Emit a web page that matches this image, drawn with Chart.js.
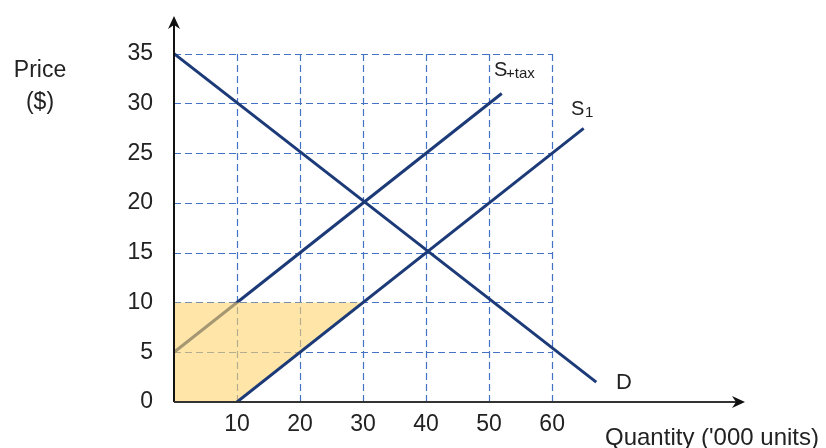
<!DOCTYPE html>
<html>
<head>
<meta charset="utf-8">
<script src="https://cdn.jsdelivr.net/npm/chart.js@4/dist/chart.umd.min.js"></script>
<style>
html,body{margin:0;padding:0;background:#fff}
#wrap{width:826px;height:448px}
</style>
</head>
<body>
<div id="wrap"><canvas id="chart" width="826" height="448"></canvas></div>
<script>
// tick labels
const xTicks=[10,20,30,40,50,60]
const yTicks=[0,5,10,15,20,25,30,35]

// curves (quantity '000, price $)
const demand=[{x:0,y:35},{x:67,y:2}]
const supply1=[{x:10,y:0},{x:65,y:27.5}]
const supplyTax=[{x:0,y:5},{x:52,y:31}]

// shaded area: price 10 line down to S1
const shadeTop=[{x:0,y:10},{x:30,y:10}]
const shadeBottom=[{x:0,y:0},{x:10,y:0},{x:30,y:10}]

const FONT="'Liberation Sans', Arial, sans-serif"
const NAVY="#1c3a78"
const GRID="#4472c4"
const Y_ARROW=38.8 // where the y axis arrow ends

const gridAndAxes={
  id:"gridAndAxes",
  beforeDatasetsDraw(chart){
    const ctx=chart.ctx
    const xs=chart.scales.x, ys=chart.scales.y
    const x0=xs.getPixelForValue(0), x60=xs.getPixelForValue(60)
    const y0=ys.getPixelForValue(0), y35=ys.getPixelForValue(35)
    ctx.save()
    ctx.strokeStyle=GRID
    ctx.lineWidth=1.2
    ctx.setLineDash([7,4])
    xTicks.forEach(v=>{
      const px=Math.round(xs.getPixelForValue(v))+0.5
      ctx.beginPath();ctx.moveTo(px,y0);ctx.lineTo(px,y35);ctx.stroke()
    })
    yTicks.forEach(v=>{
      if(v===0)return
      const py=Math.round(ys.getPixelForValue(v))+0.5
      ctx.beginPath();ctx.moveTo(x0,py);ctx.lineTo(x60,py);ctx.stroke()
    })
    ctx.restore()
  },
  afterDatasetsDraw(chart){
    const ctx=chart.ctx
    const a=chart.chartArea
    const xs=chart.scales.x, ys=chart.scales.y
    const x0=Math.round(xs.getPixelForValue(0))
    const y0=Math.round(ys.getPixelForValue(0))
    const yTop=ys.getPixelForValue(Y_ARROW)
    ctx.save()
    ctx.strokeStyle="#111"
    ctx.fillStyle="#111"
    ctx.lineWidth=2
    // y axis
    ctx.beginPath();ctx.moveTo(x0,y0);ctx.lineTo(x0,yTop+8);ctx.stroke()
    ctx.beginPath();ctx.moveTo(x0,yTop);ctx.lineTo(x0-6,yTop+13);ctx.lineTo(x0,yTop+9);ctx.lineTo(x0+6,yTop+13);ctx.closePath();ctx.fill()
    // x axis
    ctx.strokeStyle="#333"
    ctx.beginPath();ctx.moveTo(x0,y0);ctx.lineTo(a.right-8,y0);ctx.stroke()
    ctx.fillStyle="#111"
    ctx.beginPath();ctx.moveTo(a.right,y0);ctx.lineTo(a.right-13,y0-6);ctx.lineTo(a.right-9,y0);ctx.lineTo(a.right-13,y0+6);ctx.closePath();ctx.fill()

    // texts
    ctx.fillStyle="#222"
    ctx.textBaseline="alphabetic"
    ctx.font="23px "+FONT
    ctx.textAlign="center"
    ctx.fillText("Price",40,77)
    ctx.fillText("($)",40,109)
    ctx.textAlign="left"
    ctx.font="24px "+FONT
    ctx.fillText("Quantity ('000 units)",605,445)
    ctx.font="22px "+FONT
    ctx.fillText("D",616,389)
    ctx.font="20px "+FONT
    ctx.fillText("S",494,76)
    ctx.fillText("S",571,115)
    ctx.font="15px "+FONT
    ctx.fillText("+tax",506,78)
    ctx.fillText("1",585,117)
    ctx.restore()
  }
}

new Chart(document.getElementById("chart"),{
  type:"scatter",
  data:{
    datasets:[
      {label:"D",data:demand,showLine:true,borderColor:NAVY,borderWidth:3,pointRadius:0,order:0},
      {label:"S1",data:supply1,showLine:true,borderColor:NAVY,borderWidth:3,pointRadius:0,order:0},
      {label:"shade",data:shadeTop,showLine:true,borderWidth:0,borderColor:"rgba(0,0,0,0)",pointRadius:0,
        backgroundColor:"rgba(255,214,110,0.6)",fill:3,order:2},
      {label:"shadeBase",data:shadeBottom,showLine:true,borderWidth:0,borderColor:"rgba(0,0,0,0)",pointRadius:0,order:2},
      {label:"S+tax",data:supplyTax,showLine:true,borderColor:NAVY,borderWidth:3,pointRadius:0,order:3}
    ]
  },
  options:{
    responsive:false,
    animation:false,
    devicePixelRatio:1,
    layout:{padding:{left:0,right:81,top:0,bottom:0}},
    plugins:{legend:{display:false},tooltip:{enabled:false}},
    scales:{
      x:{
        type:"linear",min:0,max:90.6,
        grid:{display:false,drawTicks:false},
        border:{display:false},
        afterBuildTicks:s=>{s.ticks=xTicks.map(v=>({value:v}))},
        afterFit:s=>{s.height=46},
        ticks:{font:{family:FONT,size:23},color:"#222",padding:9,maxRotation:0,autoSkip:false}
      },
      y:{
        type:"linear",min:0,max:36.9,
        grid:{display:false,drawTicks:false},
        border:{display:false},
        afterBuildTicks:s=>{s.ticks=yTicks.map(v=>({value:v}))},
        afterFit:s=>{s.width=174},
        ticks:{font:{family:FONT,size:23},color:"#222",padding:21,autoSkip:false}
      }
    }
  },
  plugins:[gridAndAxes]
})
</script>
</body>
</html>
